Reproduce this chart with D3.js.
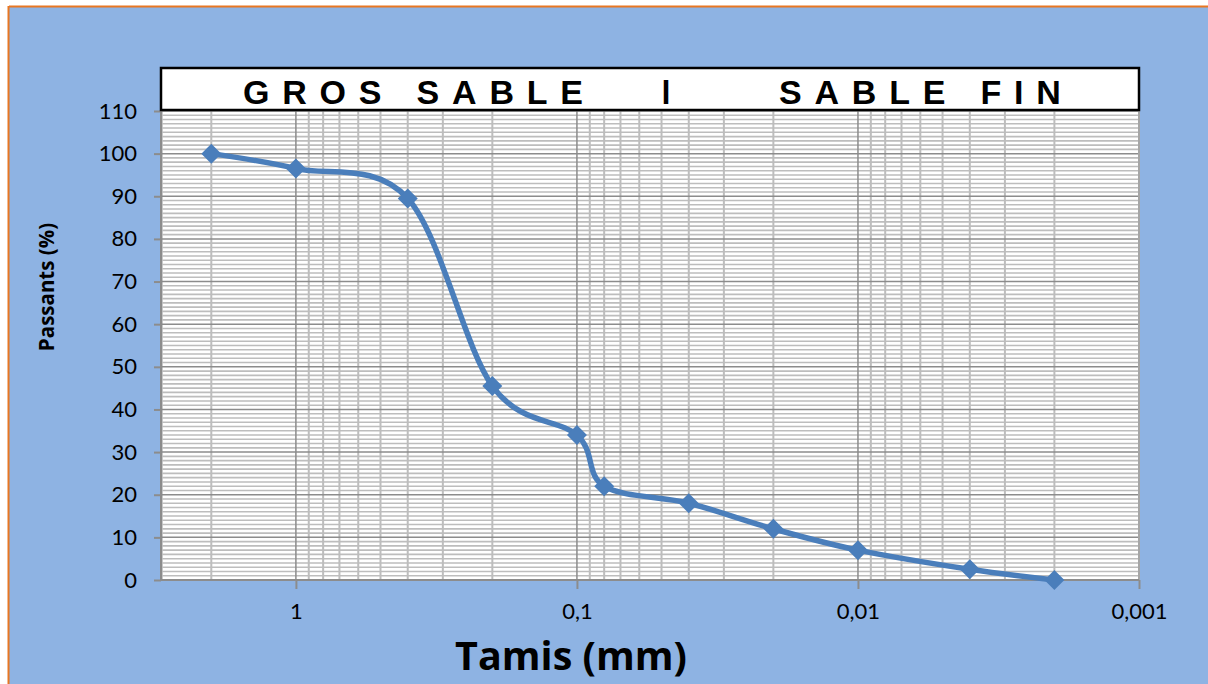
<!DOCTYPE html>
<html><head><meta charset="utf-8">
<script src="https://cdn.jsdelivr.net/npm/d3@7"></script>
<style>body{margin:0;background:#fff;}svg{display:block;}</style>
</head><body>
<svg id="c" width="1208" height="684"></svg>
<script>
const sieves = [2, 1, 0.4, 0.2, 0.1, 0.08, 0.04, 0.02, 0.01, 0.004, 0.002];
const passing = [100, 96.5, 89.5, 45.5, 34, 22, 18, 12, 7, 2.5, 0];
const xTickValues = [1, 0.1, 0.01, 0.001];
const xTickLabels = ["1", "0,1", "0,01", "0,001"];
const yTickValues = [0,10,20,30,40,50,60,70,80,90,100,110];
const headerLeft = "GROS SABLE";
const headerMid = "I";
const headerRight = "SABLE FIN";

const svg = d3.select("#c");
// background
svg.append("rect").attr("x",9).attr("y",6).attr("width",1199).attr("height",678).attr("fill","#8EB3E3");
svg.append("line").attr("x1",9).attr("x2",1208).attr("y1",6.5).attr("y2",6.5).attr("stroke","#E87722").attr("stroke-width",2);
svg.append("line").attr("x1",8.5).attr("x2",8.5).attr("y1",6).attr("y2",684).attr("stroke","#E87722").attr("stroke-width",2);

const L=161, R=1139, T=111, B=580;
const x = d3.scaleLog().domain([3.02, 0.001]).range([L, R]);
const y = d3.scaleLinear().domain([0, 110]).range([B, T]);

svg.append("rect").attr("x",L).attr("y",T).attr("width",R-L).attr("height",B-T).attr("fill","#fff");

const g = svg.append("g");
// horizontal minor grid
for (let v=1; v<110; v++) {
  if (v%10===0) continue;
  g.append("line").attr("x1",L).attr("x2",R).attr("y1",y(v)).attr("y2",y(v)).attr("stroke","#BDBDBD").attr("stroke-width",1.6);
}
// vertical minor grid
const minors = [];
for (let e=-3; e<=0; e++) for (let m=2; m<=9; m++) { const v=m*Math.pow(10,e); if (v<3.02 && v>0.001) minors.push(v);}
minors.forEach(v=>{
  g.append("line").attr("x1",x(v)).attr("x2",x(v)).attr("y1",T).attr("y2",B).attr("stroke","#BDBDBD").attr("stroke-width",2);
});
// major horizontal grid
yTickValues.forEach(v=>{
  if (v===0) return;
  g.append("line").attr("x1",L).attr("x2",R).attr("y1",y(v)).attr("y2",y(v)).attr("stroke","#8C8C8C").attr("stroke-width",1.5);
});
// major vertical grid
xTickValues.forEach(v=>{
  g.append("line").attr("x1",x(v)).attr("x2",x(v)).attr("y1",T).attr("y2",B).attr("stroke","#8C8C8C").attr("stroke-width",1.5);
});
// plot border sides
g.append("line").attr("x1",L).attr("x2",L).attr("y1",T).attr("y2",B).attr("stroke","#8C8C8C").attr("stroke-width",2);
g.append("line").attr("x1",R).attr("x2",R).attr("y1",T).attr("y2",B).attr("stroke","#A6A6A6").attr("stroke-width",2);

// y axis
const yAxis = d3.axisLeft(y).tickValues(yTickValues).tickSize(7).tickPadding(17);
const ya = svg.append("g").attr("transform",`translate(${L},0)`).call(yAxis);
ya.select(".domain").remove();
ya.selectAll("line").attr("stroke","#8C8C8C").attr("stroke-width",2);
ya.selectAll("text").attr("font-family","Lato, 'Open Sans', sans-serif").attr("font-size",22).attr("fill","#000");

// x axis
const xAxis = d3.axisBottom(x).tickValues(xTickValues).tickFormat((d,i)=>xTickLabels[i]).tickSize(9).tickPadding(14);
const xa = svg.append("g").attr("transform",`translate(0,${B})`).call(xAxis);
xa.select(".domain").attr("stroke","#8C8C8C").attr("stroke-width",2).attr("d",`M${L},0H${R}`);
xa.selectAll("line").attr("stroke","#8C8C8C").attr("stroke-width",2);
xa.selectAll("text").attr("font-family","Lato, 'Open Sans', sans-serif").attr("font-size",22).attr("fill","#000");

// series
const data = sieves.map((s,i)=>({s, p: passing[i]}));
const line = d3.line().x(d=>x(d.s)).y(d=>y(d.p)).curve(d3.curveCatmullRom.alpha(0));
svg.append("path").datum(data).attr("d",line).attr("fill","none").attr("stroke","#4A7EBB").attr("stroke-width",5.5).attr("stroke-linejoin","round");
svg.selectAll(".pt").data(data).enter().append("path").attr("class","pt")
  .attr("transform",d=>`translate(${x(d.s)},${y(d.p)})`)
  .attr("d","M0,-10L10,0L0,10L-10,0Z").attr("fill","#4A7EBB");

// header box
svg.append("rect").attr("x",L).attr("y",68).attr("width",R-L).attr("height",42).attr("fill","#fff").attr("stroke","#000").attr("stroke-width",2.5);
const hdr = (t, xx) => svg.append("text").attr("x",xx).attr("y",104).text(t)
  .attr("font-family","'Liberation Sans', Arial, sans-serif").attr("font-weight","bold").attr("font-size",34)
  .attr("letter-spacing","12.8px").attr("fill","#000");
hdr(headerLeft, 243);
svg.append("text").attr("x",666).attr("y",104).attr("text-anchor","middle").text(headerMid)
  .attr("font-family","'Liberation Sans', Arial, sans-serif").attr("font-weight","bold").attr("font-size",36)
  .attr("transform","translate(666,0) scale(0.85,1) translate(-666,0)").attr("fill","#000");
hdr(headerRight, 779);

// axis titles
svg.append("text").attr("x",571).attr("y",670).attr("text-anchor","middle").text("Tamis (mm)")
  .attr("font-family","'Open Sans', sans-serif").attr("font-weight","bold").attr("font-size",39.5).attr("fill","#000");
svg.append("text").attr("transform","translate(54,287) rotate(-90)").attr("text-anchor","middle").text("Passants (%)")
  .attr("font-family","'Open Sans', sans-serif").attr("font-weight","bold").attr("font-size",20.5).attr("fill","#000");
</script>
</body></html>
